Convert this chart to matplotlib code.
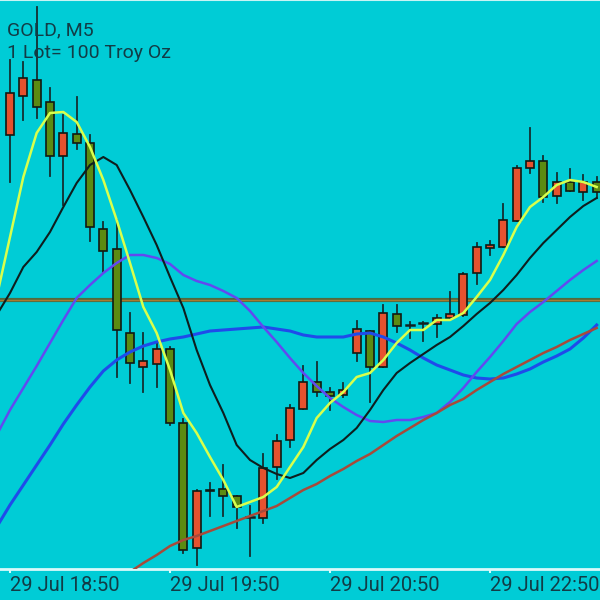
import numpy as np
import matplotlib.pyplot as plt
from matplotlib.patches import Rectangle

plt.rcParams['font.family'] = ['Roboto', 'DejaVu Sans']

# candles, 5 minute bars
opens = [1946.5, 1950.4, 1952.0, 1949.8, 1944.4, 1946.6, 1945.7, 1937.1, 1935.1, 1926.7,
         1923.3, 1923.6, 1925.1, 1917.7, 1905.2, 1910.9, 1911.1, 1910.4, 1908.3, 1908.2,
         1913.3, 1916.0, 1919.1, 1921.8, 1920.8, 1920.5, 1924.7, 1926.9, 1923.3, 1928.6,
         1927.5, 1927.7, 1927.6, 1928.2, 1928.5, 1932.7, 1935.2, 1935.3, 1937.9, 1943.2,
         1943.9, 1940.4, 1941.8, 1940.8, 1941.8]
highs = [1954.0, 1953.8, 1959.3, 1951.2, 1948.5, 1950.3, 1946.5, 1937.8, 1938.0, 1928.7,
         1926.7, 1925.8, 1925.3, 1918.1, 1911.0, 1911.7, 1913.5, 1910.4, 1909.4, 1914.6,
         1916.5, 1919.5, 1923.4, 1923.8, 1921.2, 1921.7, 1927.9, 1926.9, 1929.5, 1929.5,
         1927.8, 1927.8, 1928.5, 1930.8, 1932.7, 1935.7, 1935.9, 1939.6, 1943.4, 1947.2,
         1944.4, 1942.7, 1943.1, 1942.5, 1942.3]
lows = [1941.8, 1948.0, 1948.2, 1942.4, 1939.5, 1945.1, 1935.9, 1932.7, 1922.3, 1921.7,
        1920.8, 1921.3, 1917.5, 1904.7, 1903.5, 1908.4, 1908.4, 1907.2, 1904.4, 1907.7,
        1912.1, 1915.3, 1919.1, 1920.4, 1919.0, 1920.3, 1923.9, 1919.8, 1923.3, 1926.8,
        1926.2, 1925.9, 1926.3, 1928.2, 1928.4, 1931.6, 1934.5, 1935.3, 1937.9, 1942.7,
        1939.8, 1939.7, 1940.9, 1940.0, 1940.2]
closes = [1950.7, 1952.2, 1949.3, 1944.4, 1946.7, 1945.7, 1937.3, 1934.9, 1927.0, 1923.7,
          1923.9, 1925.1, 1917.7, 1905.0, 1910.9, 1911.0, 1910.4, 1909.3, 1908.3, 1913.2,
          1915.9, 1919.2, 1921.8, 1920.8, 1920.4, 1921.0, 1927.1, 1923.3, 1928.7, 1927.4,
          1927.5, 1927.7, 1928.2, 1928.6, 1932.6, 1935.3, 1935.5, 1938.0, 1943.2, 1943.9,
          1940.3, 1941.8, 1940.9, 1941.8, 1940.8]

# moving averages, bar -1 .. 44
ma_yellow = [1930.3, 1936.3, 1942.3, 1946.7, 1948.7, 1948.8, 1947.8, 1945.3, 1942.0, 1938.0,
             1933.7, 1929.3, 1926.7, 1923.0, 1918.7, 1916.7, 1914.3, 1912.0, 1909.3, 1909.8,
             1910.3, 1911.3, 1913.3, 1915.3, 1918.2, 1919.7, 1920.8, 1922.3, 1922.7, 1924.0,
             1925.7, 1927.0, 1927.0, 1928.0, 1928.0, 1928.7, 1930.3, 1932.0, 1934.5, 1937.3,
             1939.3, 1940.3, 1941.5, 1942.0, 1941.8, 1941.3]
ma_black = [1928.5, 1930.7, 1933.3, 1934.8, 1936.8, 1939.3, 1941.7, 1943.5, 1944.3, 1943.5,
            1941.0, 1938.3, 1935.5, 1932.3, 1929.2, 1925.0, 1921.5, 1918.7, 1915.5, 1914.0,
            1913.2, 1912.6, 1912.2, 1912.7, 1914.0, 1915.1, 1916.0, 1917.2, 1919.0, 1921.0,
            1922.7, 1923.7, 1924.6, 1925.5, 1926.3, 1927.4, 1928.6, 1929.7, 1931.0, 1932.5,
            1934.2, 1935.7, 1937.0, 1938.3, 1939.4, 1940.2]
ma_purple = [1916.5, 1919.0, 1921.2, 1923.4, 1925.7, 1928.0, 1930.2, 1931.5, 1932.7, 1933.7,
             1934.5, 1934.5, 1934.2, 1933.6, 1932.5, 1931.9, 1931.5, 1930.9, 1930.2, 1928.9,
             1927.3, 1925.8, 1924.2, 1922.7, 1921.4, 1920.2, 1919.3, 1918.5, 1917.9, 1917.8,
             1918.0, 1918.0, 1918.3, 1918.7, 1919.8, 1921.2, 1922.8, 1924.3, 1925.9, 1927.6,
             1928.8, 1929.8, 1930.9, 1932.0, 1933.0, 1933.9]
ma_blue = [1907.3, 1909.5, 1911.5, 1913.5, 1915.5, 1917.6, 1919.5, 1921.3, 1922.9, 1924.0,
           1924.8, 1925.4, 1925.8, 1926.1, 1926.3, 1926.6, 1926.9, 1927.0, 1927.1, 1927.2,
           1927.3, 1927.1, 1926.9, 1926.5, 1926.3, 1926.3, 1926.3, 1926.6, 1926.7, 1926.3,
           1925.7, 1925.0, 1924.2, 1923.5, 1923.0, 1922.5, 1922.2, 1922.1, 1922.2, 1922.6,
           1923.1, 1923.8, 1924.4, 1925.1, 1926.2, 1927.5]
# slow one, bar 8 .. 44
ma_red = [1902.0, 1902.8, 1903.7, 1904.5, 1905.4, 1906.0, 1906.4, 1906.9, 1907.4, 1907.9,
          1908.4, 1908.9, 1909.4, 1910.2, 1911.0, 1911.6, 1912.4, 1913.1, 1913.9, 1914.6,
          1915.5, 1916.4, 1917.2, 1918.0, 1918.7, 1919.5, 1920.1, 1921.0, 1921.8, 1922.6,
          1923.3, 1924.0, 1924.7, 1925.3, 1926.0, 1926.6, 1927.2]
level = 1930.0

tick_pos = [0, 12, 24, 36]
tick_labels = ['29 Jul 18:50', '29 Jul 19:50', '29 Jul 20:50', '29 Jul 22:50']

bg = '#00CCD6'
fig = plt.figure(figsize=(6, 6), dpi=100, facecolor=bg)
ax = fig.add_axes([0, 31 / 600, 1, 569 / 600])
ax.set_facecolor(bg)

ax.axhline(level, color='#4f6a40', lw=3, zorder=1)
ax.axhline(level, color='#a87a30', lw=1, zorder=1)

w = 0.58
for i in range(len(opens)):
    o, h, l, c = opens[i], highs[i], lows[i], closes[i]
    ax.plot([i, i], [l, h], color='#142e30', lw=1.3, zorder=2)
    if c > o:
        col = '#E6522F'
    elif c < o:
        col = '#5B8B12'
    else:
        ax.plot([i - w / 2, i + w / 2], [o, o], color='#102020', lw=1.8, zorder=3)
        continue
    ax.add_patch(Rectangle((i - w / 2, min(o, c)), w, abs(c - o), facecolor=col,
                           edgecolor='#101a14', lw=1.2, zorder=3))

x = np.arange(-1, 45)
ax.plot(x, ma_blue, color='#1F4BEA', lw=2.2, zorder=4)
ax.plot(x, ma_purple, color='#6249F0', lw=1.8, zorder=4)
ax.plot(np.arange(8, 45), ma_red, color='#A84A3A', lw=1.8, zorder=4)
ax.plot(x, ma_black, color='#0E1E1E', lw=1.5, zorder=5)
ax.plot(x, ma_yellow, color='#D8FF4C', lw=1.8, zorder=5)

ax.set_xlim(-0.75, 44.25)
ax.set_ylim(1903.1, 1960)
ax.set_yticks([])
for s in ['left', 'right']:
    ax.spines[s].set_visible(False)
ax.spines['bottom'].set_color('#D8FAFA')
ax.spines['bottom'].set_linewidth(2)
ax.spines['top'].set_color('#C8F4F4')
ax.spines['top'].set_linewidth(1.5)
ax.set_xticks(tick_pos)
ax.set_xticklabels(tick_labels, ha='left', fontsize=14.5, color='#123C46')
ax.tick_params(axis='x', length=3, width=1.5, color='#D8FAFA', pad=2)

fig.text(7 / 600, 1 - 35 / 600, 'GOLD, M5', fontsize=14, color='#123C46', va='baseline')
fig.text(7 / 600, 1 - 58 / 600, '1 Lot= 100 Troy Oz', fontsize=14, color='#123C46', va='baseline')

fig.savefig('out.png', dpi=100, facecolor=bg)
